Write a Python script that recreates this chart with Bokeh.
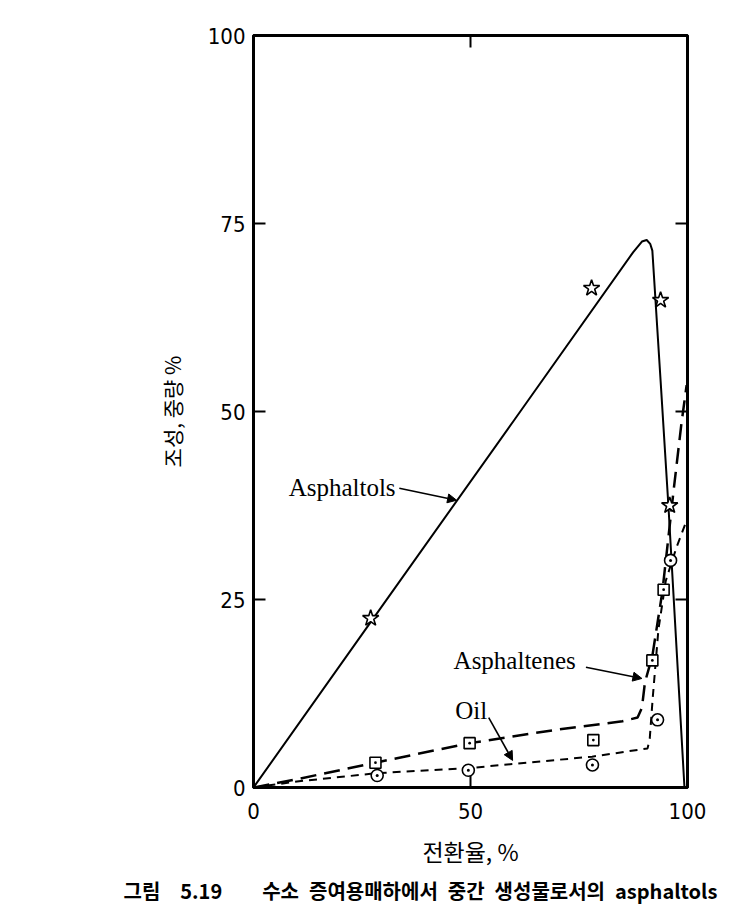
from bokeh.plotting import figure
from bokeh.models import Range1d, LinearAxis, FixedTicker, Label, Arrow, NormalHead, Title
from bokeh.embed import file_html
from bokeh.resources import INLINE

# Asphaltols: measured points (stars) and the hand-fitted trend curve
asphaltol_x = [27.0, 77.9, 93.8, 95.9]
asphaltol_y = [22.5, 66.4, 64.8, 37.5]
asphaltol_curve_x = [0, 27.0, 60.0, 87.5, 89.5, 90.6, 91.4, 91.9, 93.8, 95.6, 99.3]
asphaltol_curve_y = [0, 22.0, 48.8, 71.2, 72.6, 72.8, 72.3, 71.4, 54.1, 37.5, 0]

# Asphaltenes: measured points (squares) and trend curve
asphaltene_x = [28.1, 49.8, 78.3, 91.9, 94.5]
asphaltene_y = [3.3, 5.9, 6.3, 16.9, 26.3]
asphaltene_curve_x = [0, 10.0, 28.1, 49.8, 70.0, 85.0, 88.5, 89.5, 90.2, 91.9, 94.2, 96.8, 98.6, 99.8]
asphaltene_curve_y = [0, 1.1, 3.3, 5.9, 7.7, 8.8, 9.3, 10.6, 14.0, 17.5, 26.0, 39.5, 48.4, 53.5]

# Oil: measured points (circles) and trend curve
oil_x = [28.5, 49.5, 78.1, 93.1, 96.1]
oil_y = [1.6, 2.3, 3.0, 9.0, 30.2]
oil_curve_x = [0, 10.0, 28.3, 50.0, 78.0, 90.8, 91.3, 92.0, 93.3, 95.0, 97.5, 99.8]
oil_curve_y = [0, 0.8, 1.9, 2.6, 4.1, 5.2, 6.5, 12.0, 21.0, 27.5, 32.0, 35.5]

y_ticks = [0, 25, 50, 75, 100]
x_ticks = [0, 50, 100]
top_ticks = [50]
right_ticks = [25, 50, 75]

TICK_FONT = "DejaVu Sans Condensed"
SERIF = "Liberation Serif"
KR = "Noto Sans CJK KR"

p = figure(width=735, height=914, x_range=Range1d(0, 100), y_range=Range1d(0, 100),
           output_backend="svg", toolbar_location=None,
           min_border_left=253, min_border_right=48, min_border_top=35, min_border_bottom=127)
p.grid.visible = False
p.background_fill_color = "white"
p.border_fill_color = "white"
p.outline_line_color = "black"
p.outline_line_width = 3

for ax in (p.xaxis[0], p.yaxis[0]):
    ax.axis_line_width = 3
    ax.axis_line_color = "black"
    ax.major_tick_in = 12
    ax.major_tick_out = 0
    ax.major_tick_line_width = 2
    ax.minor_tick_line_color = None
    ax.major_label_text_font = TICK_FONT
    ax.major_label_text_font_size = "22px"
    ax.major_label_text_color = "black"
    ax.axis_label_text_font = KR
    ax.axis_label_text_font_style = "normal"
    ax.axis_label_text_color = "black"

p.yaxis.ticker = FixedTicker(ticks=y_ticks)
p.yaxis.major_label_standoff = 8
p.yaxis.axis_label = "조성, 중량 %"
p.yaxis.axis_label_text_font_size = "21px"
p.yaxis.axis_label_standoff = 18

p.xaxis.ticker = FixedTicker(ticks=x_ticks)
p.xaxis.major_label_standoff = 15
p.xaxis.axis_label = "전환율, %"
p.xaxis.axis_label_text_font_size = "23px"
p.xaxis.axis_label_standoff = 12

# inward ticks on the top and right edges, labels not drawn
for ticks, side in ((top_ticks, "above"), (right_ticks, "right")):
    ax = LinearAxis(ticker=FixedTicker(ticks=ticks))
    ax.axis_line_width = 3
    ax.major_tick_in = 12
    ax.major_tick_out = 0
    ax.major_tick_line_width = 2
    ax.minor_tick_line_color = None
    ax.major_label_text_color = None
    ax.major_label_text_font_size = "10px"
    p.add_layout(ax, side)

# trend curves
p.line(asphaltol_curve_x, asphaltol_curve_y, line_color="black", line_width=2)
p.line(asphaltene_curve_x, asphaltene_curve_y, line_color="black", line_width=2.5, line_dash="16 8")
p.line(oil_curve_x, oil_curve_y, line_color="black", line_width=2, line_dash="8 6")

# measured points
p.scatter(asphaltol_x, asphaltol_y, marker="star", size=17, fill_color="white",
          line_color="black", line_width=1.6)
p.scatter(asphaltene_x, asphaltene_y, marker="square_dot", size=11, fill_color="white",
          line_color="black", line_width=1.6)
p.scatter(oil_x, oil_y, marker="circle_dot", size=12, fill_color="white",
          line_color="black", line_width=1.6)

# series labels with pointers
def series_label(text, x, y):
    p.add_layout(Label(x=x, y=y, text=text, text_font=SERIF, text_font_size="25px",
                       text_baseline="middle", text_align="left", text_color="black"))

def pointer(x0, y0, x1, y1):
    p.add_layout(Arrow(end=NormalHead(size=9, fill_color="black", line_color="black"),
                       x_start=x0, y_start=y0, x_end=x1, y_end=y1,
                       line_color="black", line_width=1.6))

series_label("Asphaltols", 8.1, 39.9)
pointer(33.6, 39.8, 46.8, 38.2)
series_label("Asphaltenes", 46.1, 16.9)
pointer(76.6, 16.0, 89.5, 14.5)
series_label("Oil", 46.5, 10.2)
pointer(54.2, 9.3, 59.7, 3.6)

# figure caption under the x axis (em/en spaces keep the wide word gaps)
EM, EN = "\u2003", "\u2002"
caption_text = ("그림" + EM + "5.19" + EM * 2
                + "수소" + EN + "증여용매하에서" + EN + "중간" + EN + "생성물로서의" + EN
                + "asphaltols")
caption = Title(text=caption_text, align="left", offset=-130, standoff=6,
                text_font=KR, text_font_size="20px", text_font_style="bold",
                text_color="black")
p.add_layout(caption, "below")

open("out.html", "w").write(file_html(p, INLINE))
